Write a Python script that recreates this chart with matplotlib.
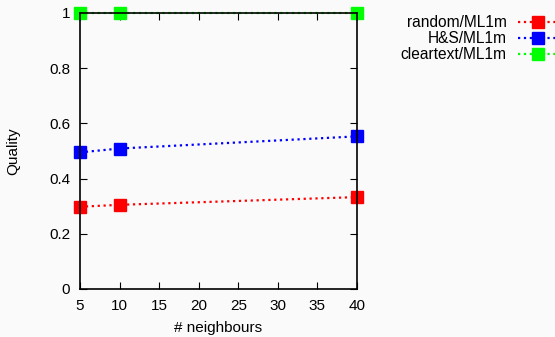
import matplotlib.pyplot as plt

plt.rcParams['font.family'] = ['Liberation Sans', 'DejaVu Sans']

neighbours = [5, 10, 40]
random_q = [0.298, 0.305, 0.333]
hs_q = [0.495, 0.509, 0.553]
clear_q = [1.0, 1.0, 1.0]

xticks = [5, 10, 15, 20, 25, 30, 35, 40]
yticks = [0, 0.2, 0.4, 0.6, 0.8, 1]
ylabels = ['0', '0.2', '0.4', '0.6', '0.8', '1']

fig = plt.figure(figsize=(5.55, 3.37), dpi=100, facecolor='#fafafa')
ax = fig.add_axes([80 / 555, 48 / 337, 277 / 555, 276 / 337])
ax.set_facecolor('#fafafa')

style = dict(linestyle=':', linewidth=1.6, marker='s', markersize=8.5, clip_on=False)
ax.plot(neighbours, random_q, color='#ff0000', label='random/ML1m', **style)
ax.plot(neighbours, hs_q, color='#0000ff', label='H&S/ML1m', **style)
ax.plot(neighbours, clear_q, color='#00ff00', label='cleartext/ML1m', **style)

ax.set_xlim(5, 40)
ax.set_ylim(0, 1)
ax.set_xticks(xticks)
ax.set_yticks(yticks)
ax.set_yticklabels(ylabels)
ax.tick_params(direction='in', top=True, right=True, labelsize=11, length=5, width=0.8, pad=7)
for s in ax.spines.values():
    s.set_linewidth(1.2)

ax.set_xlabel('# neighbours', fontsize=11, labelpad=6)
ax.set_ylabel('Quality', fontsize=11)
ax.yaxis.set_label_coords(-60 / 277, 0.5)

fig.legend(loc='upper right', bbox_to_anchor=(558 / 555, 1 - 15 / 337),
           frameon=False, markerfirst=False, fontsize=11.2, handlelength=2.6,
           handletextpad=0.7, labelspacing=0.08, borderpad=0, borderaxespad=0)

plt.savefig('out.png', dpi=100, facecolor=fig.get_facecolor())
